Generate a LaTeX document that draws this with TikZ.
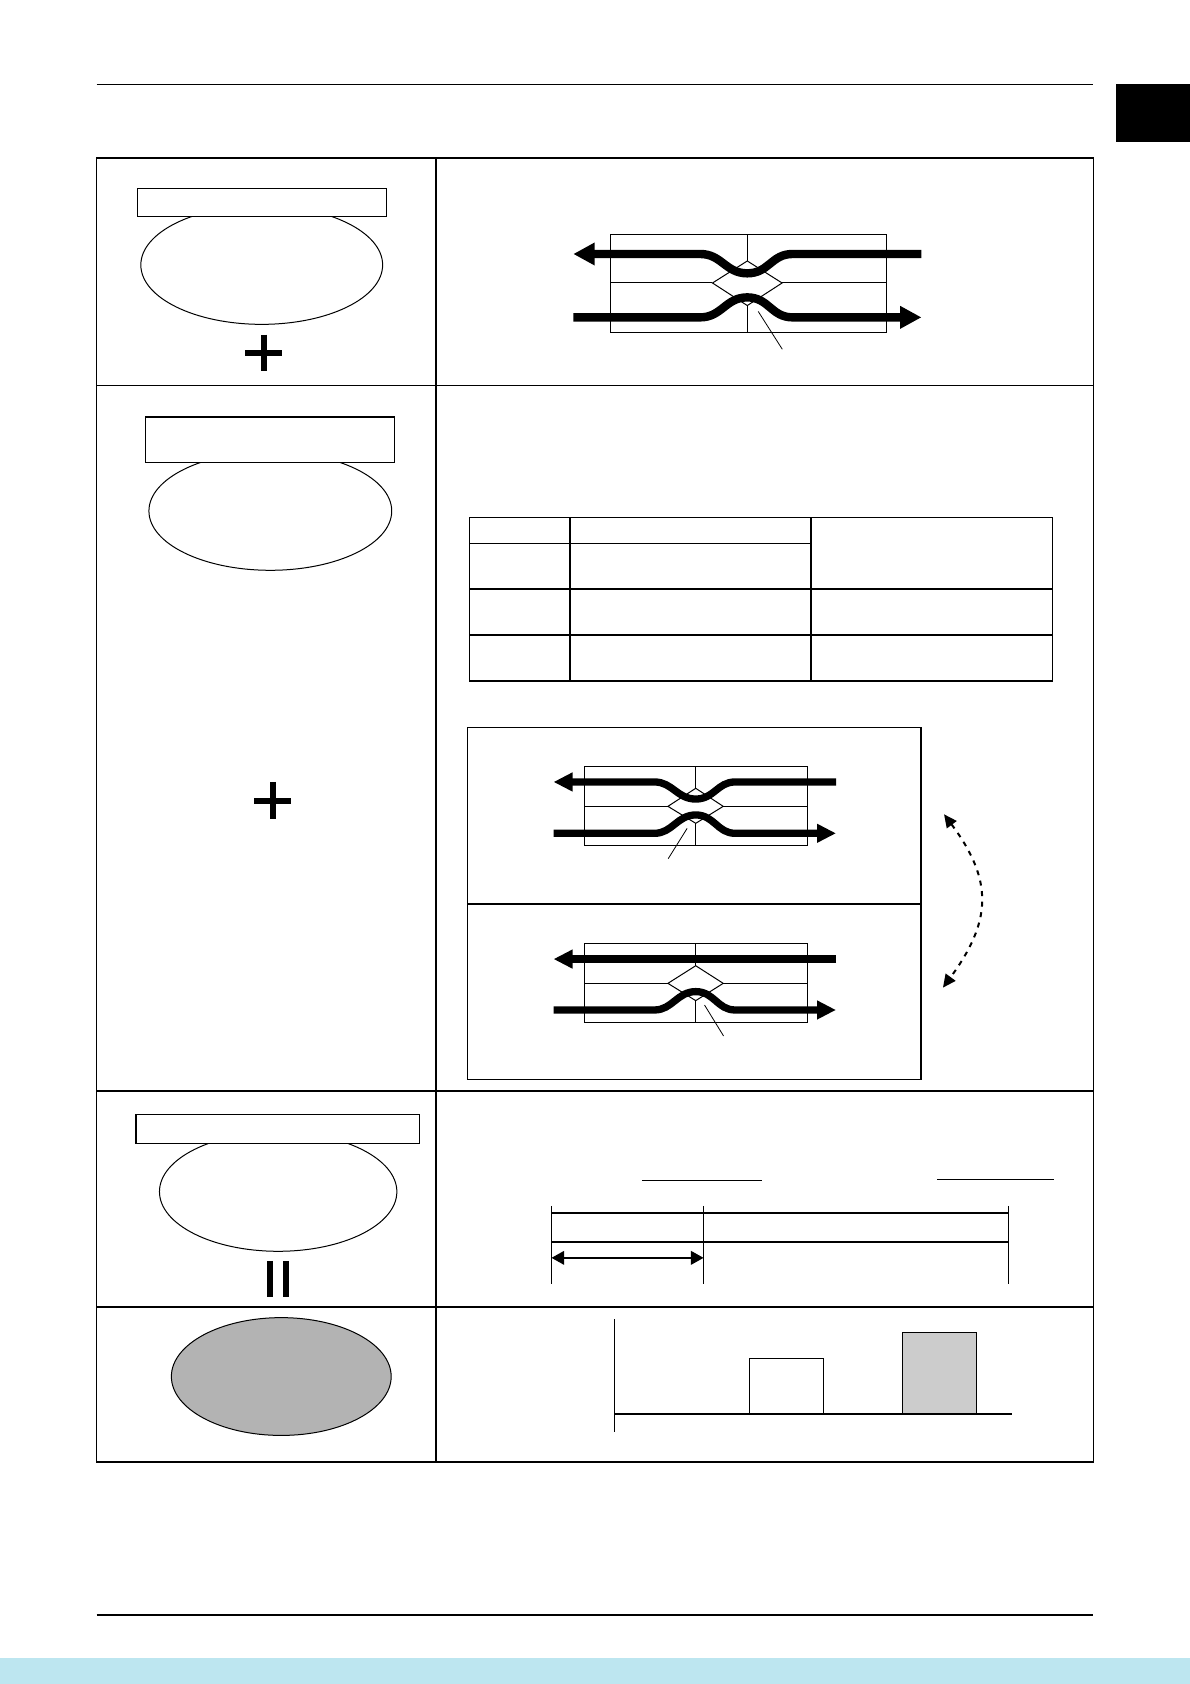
\documentclass[tikz,border=0pt]{standalone}
\usetikzlibrary{arrows.meta,shapes.geometric}
\definecolor{bandblue}{RGB}{189,230,240}
\definecolor{ovalgray}{RGB}{179,179,179}
\definecolor{bargray}{RGB}{204,204,204}
\begin{document}
\begin{tikzpicture}[x=0.537pt,y=-0.537pt,
  rule/.style={line width=0.8pt},
  frame/.style={line width=0.8pt},
  thin/.style={line width=0.5pt},
  pointer/.style={line width=0.4pt},
  oval/.style={ellipse,draw,line width=0.5pt,inner sep=0pt},
  labelbox/.style={rectangle,draw,fill=white,line width=0.7pt,inner sep=0pt},
  bigflow/.style={line width=4.2pt,line join=round,-{Triangle[length=10.7pt,width=10.7pt]}},
  smallflow/.style={line width=3.65pt,line join=round,-{Triangle[length=9.5pt,width=8.9pt]}},
  symbol/.style={line width=2.85pt},
  swap/.style={line width=1pt,dash pattern=on 2.5pt off 2.8pt,{Triangle[length=6.5pt,width=6pt]}-{Triangle[length=6.5pt,width=6pt]}},
  span/.style={line width=0.9pt,{Triangle[length=6.3pt,width=6.8pt]}-{Triangle[length=6.3pt,width=6.8pt]}},
  axis/.style={line width=0.8pt},
  bar/.style={draw,line width=0.6pt}]
\useasboundingbox (0,0) rectangle (1108,1568);
\fill[white] (0,0) rectangle (1108,1568);

% header / footer
\draw[rule] (90,78.5) -- (1018,78.5);
\fill[black] (1039,78.5) rectangle (1108,132);
\draw[rule] (90,1503.7) -- (1018,1503.7);
\fill[bandblue] (0,1543.5) rectangle (1108,1568);

% table frame
\draw[frame] (90,147) rectangle (1018,1361);
\draw[frame] (406,147) -- (406,1361);
\draw[frame] (90,359) -- (1018,359);
\draw[frame] (90,1016) -- (1018,1016);
\draw[frame] (90,1217) -- (1018,1217);

% ---------- row 1 left
\node[oval,minimum width=120.9pt,minimum height=59.4pt] (e1) at (243.7,246.7) {};
\node[labelbox,minimum width=124.4pt,minimum height=14pt] (r1) at (243.85,188.35) {};
\draw[symbol] (228.5,328.5) -- (262.5,328.5);
\draw[symbol] (245.5,311.5) -- (245.5,345.5);

% ---------- row 1 right diagram
\draw[thin] (568.3,218.2) rectangle (825.6,309.4);
\draw[thin] (568.3,263.5) -- (663.4,263.5);
\draw[thin] (728.2,263.5) -- (825.6,263.5);
\draw[thin] (695.8,218.2) -- (695.8,243);
\draw[thin] (695.8,284.5) -- (695.8,309.4);
\draw[thin] (663.4,263.5) -- (695.8,243) -- (728.2,263.5) -- (695.8,284.5) -- cycle;
\draw[bigflow] (858,236.5) -- (738,236.5)
  .. controls (718,236.5) and (716,254.5) .. (695.8,254.5)
  .. controls (675.6,254.5) and (672,236.5) .. (652,236.5) -- (533.8,236.5);
\draw[bigflow] (533.8,295.5) -- (652,295.5)
  .. controls (672,295.5) and (675.6,276.9) .. (695.8,276.9)
  .. controls (716,276.9) and (718,295.5) .. (738,295.5) -- (858,295.5);
\coordinate (p1a) at (706,290);
\coordinate (p1b) at (728.4,325.2);
\draw[pointer] (p1a) -- (p1b);

% ---------- row 2 left
\node[oval,minimum width=121.4pt,minimum height=59.3pt] (e2) at (251.7,475.8) {};
\node[labelbox,minimum width=124.7pt,minimum height=22.6pt] (r2) at (251.4,409.5) {};
\draw[symbol] (236.5,745.9) -- (271,745.9);
\draw[symbol] (254,728.1) -- (254,762.3);

% ---------- row 2 right: table
\draw[frame] (437,482) rectangle (980,634);
\draw[frame] (530.8,482) -- (530.8,634);
\draw[frame] (755.4,482) -- (755.4,634);
\draw[frame] (437,506) -- (755.4,506);
\draw[frame] (437,548.5) -- (980,548.5);
\draw[frame] (437,591.3) -- (980,591.3);

% ---------- row 2 right: two-state panel
\draw[frame] (435.3,677.2) rectangle (857.3,1005);
\draw[frame] (435.3,841.7) -- (857.3,841.7);

% upper state
\draw[thin] (544,713.5) rectangle (751.9,787.1);
\draw[thin] (544,750.8) -- (621.9,750.8);
\draw[thin] (673.4,750.8) -- (751.9,750.8);
\draw[thin] (647.8,713.5) -- (647.8,734);
\draw[thin] (647.8,766.6) -- (647.8,787.1);
\draw[thin] (621.9,750.8) -- (647.8,734) -- (673.4,750.8) -- (647.8,766.6) -- cycle;
\draw[smallflow] (778.4,728.1) -- (684.4,728.1)
  .. controls (668,728.1) and (665,744) .. (647.8,744)
  .. controls (630.6,744) and (626,728.1) .. (609.5,728.1) -- (515.4,728.1);
\draw[smallflow] (515.4,775.9) -- (609.5,775.9)
  .. controls (626,775.9) and (630.6,758.8) .. (647.8,758.8)
  .. controls (665,758.8) and (668,775.9) .. (684.4,775.9) -- (778.4,775.9);
\coordinate (p2a) at (639.8,771.3);
\coordinate (p2b) at (622.2,799.5);
\draw[pointer] (p2a) -- (p2b);

% lower state
\draw[thin] (544,878.3) rectangle (751.9,951.9);
\draw[thin] (544,915.6) -- (621.9,915.6);
\draw[thin] (673.4,915.6) -- (751.9,915.6);
\draw[thin] (647.8,878.3) -- (647.8,899.2);
\draw[thin] (647.8,931.7) -- (647.8,951.9);
\draw[thin] (621.9,915.6) -- (647.8,899.2) -- (673.4,915.6) -- (647.8,931.7) -- cycle;
\draw[smallflow] (778.4,893) -- (515.4,893);
\draw[smallflow] (515.4,940.4) -- (609.5,940.4)
  .. controls (626,940.4) and (630.6,923.3) .. (647.8,923.3)
  .. controls (665,923.3) and (668,940.4) .. (684.4,940.4) -- (778.4,940.4);
\coordinate (p3a) at (656,935.8);
\coordinate (p3b) at (673.7,964.6);
\draw[pointer] (p3a) -- (p3b);

% switching arrow
\coordinate (sw1) at (879,758.2);
\coordinate (sw2) at (878,919.6);
\draw[swap] (sw1) .. controls (925,820) and (923.5,857.6) .. (sw2);

% ---------- row 3 left
\node[oval,minimum width=118.7pt,minimum height=59.6pt] (e3) at (259,1109.6) {};
\node[labelbox,minimum width=141.7pt,minimum height=14.5pt] (r3) at (258.65,1051.1) {};
\draw[line width=3.1pt] (251.4,1174) -- (251.4,1208);
\draw[line width=3.1pt] (266.6,1174) -- (266.6,1208);

% ---------- row 3 right: timeline
\draw[thin] (597.6,1099.6) -- (709.9,1099.6);
\draw[thin] (872.6,1098.7) -- (981.4,1098.7);
\coordinate (t0) at (513.5,1171.2);
\coordinate (t1) at (655.1,1171.2);
\draw[line width=0.9pt] (513.5,1122.9) -- (513.5,1195.8);
\draw[line width=0.9pt] (655.1,1122.9) -- (655.1,1195.8);
\draw[line width=0.9pt] (939.1,1122.9) -- (939.1,1195.8);
\draw[line width=1.1pt] (513.5,1129.4) -- (939.1,1129.4);
\draw[line width=1.1pt] (513.5,1156.3) -- (939.1,1156.3);
\draw[span] (t0) -- (t1);

% ---------- row 4 left
\node[oval,fill=ovalgray,minimum width=109.9pt,minimum height=58.9pt] (e4) at (261.9,1281.7) {};

% ---------- row 4 right: bar chart
\draw[bar,fill=white] (698,1316.6) rectangle (766.8,1264.7);
\draw[bar,fill=bargray] (840.3,1316.6) rectangle (909.1,1240.6);
\draw[axis] (572.2,1228.4) -- (572.2,1333);
\draw[axis] (572.2,1316.6) -- (942,1316.6);
\end{tikzpicture}
\end{document}
